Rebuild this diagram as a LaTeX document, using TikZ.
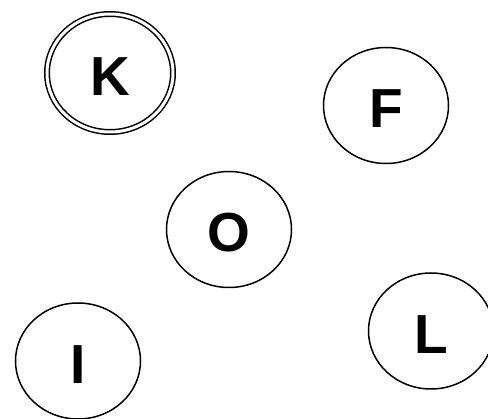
\documentclass[tikz,border=0pt]{standalone}
\usepackage{fontspec}
\setmainfont{Liberation Sans}
\usepackage{tikz}
\usetikzlibrary{shapes.geometric}

\begin{document}
\begin{tikzpicture}[x=1pt,y=-1pt,
  state/.style={ellipse,draw=black,line width=1.5pt,minimum width=125pt,
    minimum height=116pt,inner sep=0pt,text height=45pt,text depth=0pt,
    font=\fontsize{55}{60}\selectfont\bfseries},
  accept/.style={state,double,double distance=3pt,minimum width=126pt,minimum height=118pt}]
  \useasboundingbox (0,0) rectangle (488,419);
  \node[accept] (K) at (110,73) {K};
  \node[state] (F) at (386,105.5) {F};
  \node[state] (O) at (229,229.5) {O};
  \node[state] (I) at (78,361) {I};
  \node[state] (L) at (431,331) {L};
\end{tikzpicture}
\end{document}
